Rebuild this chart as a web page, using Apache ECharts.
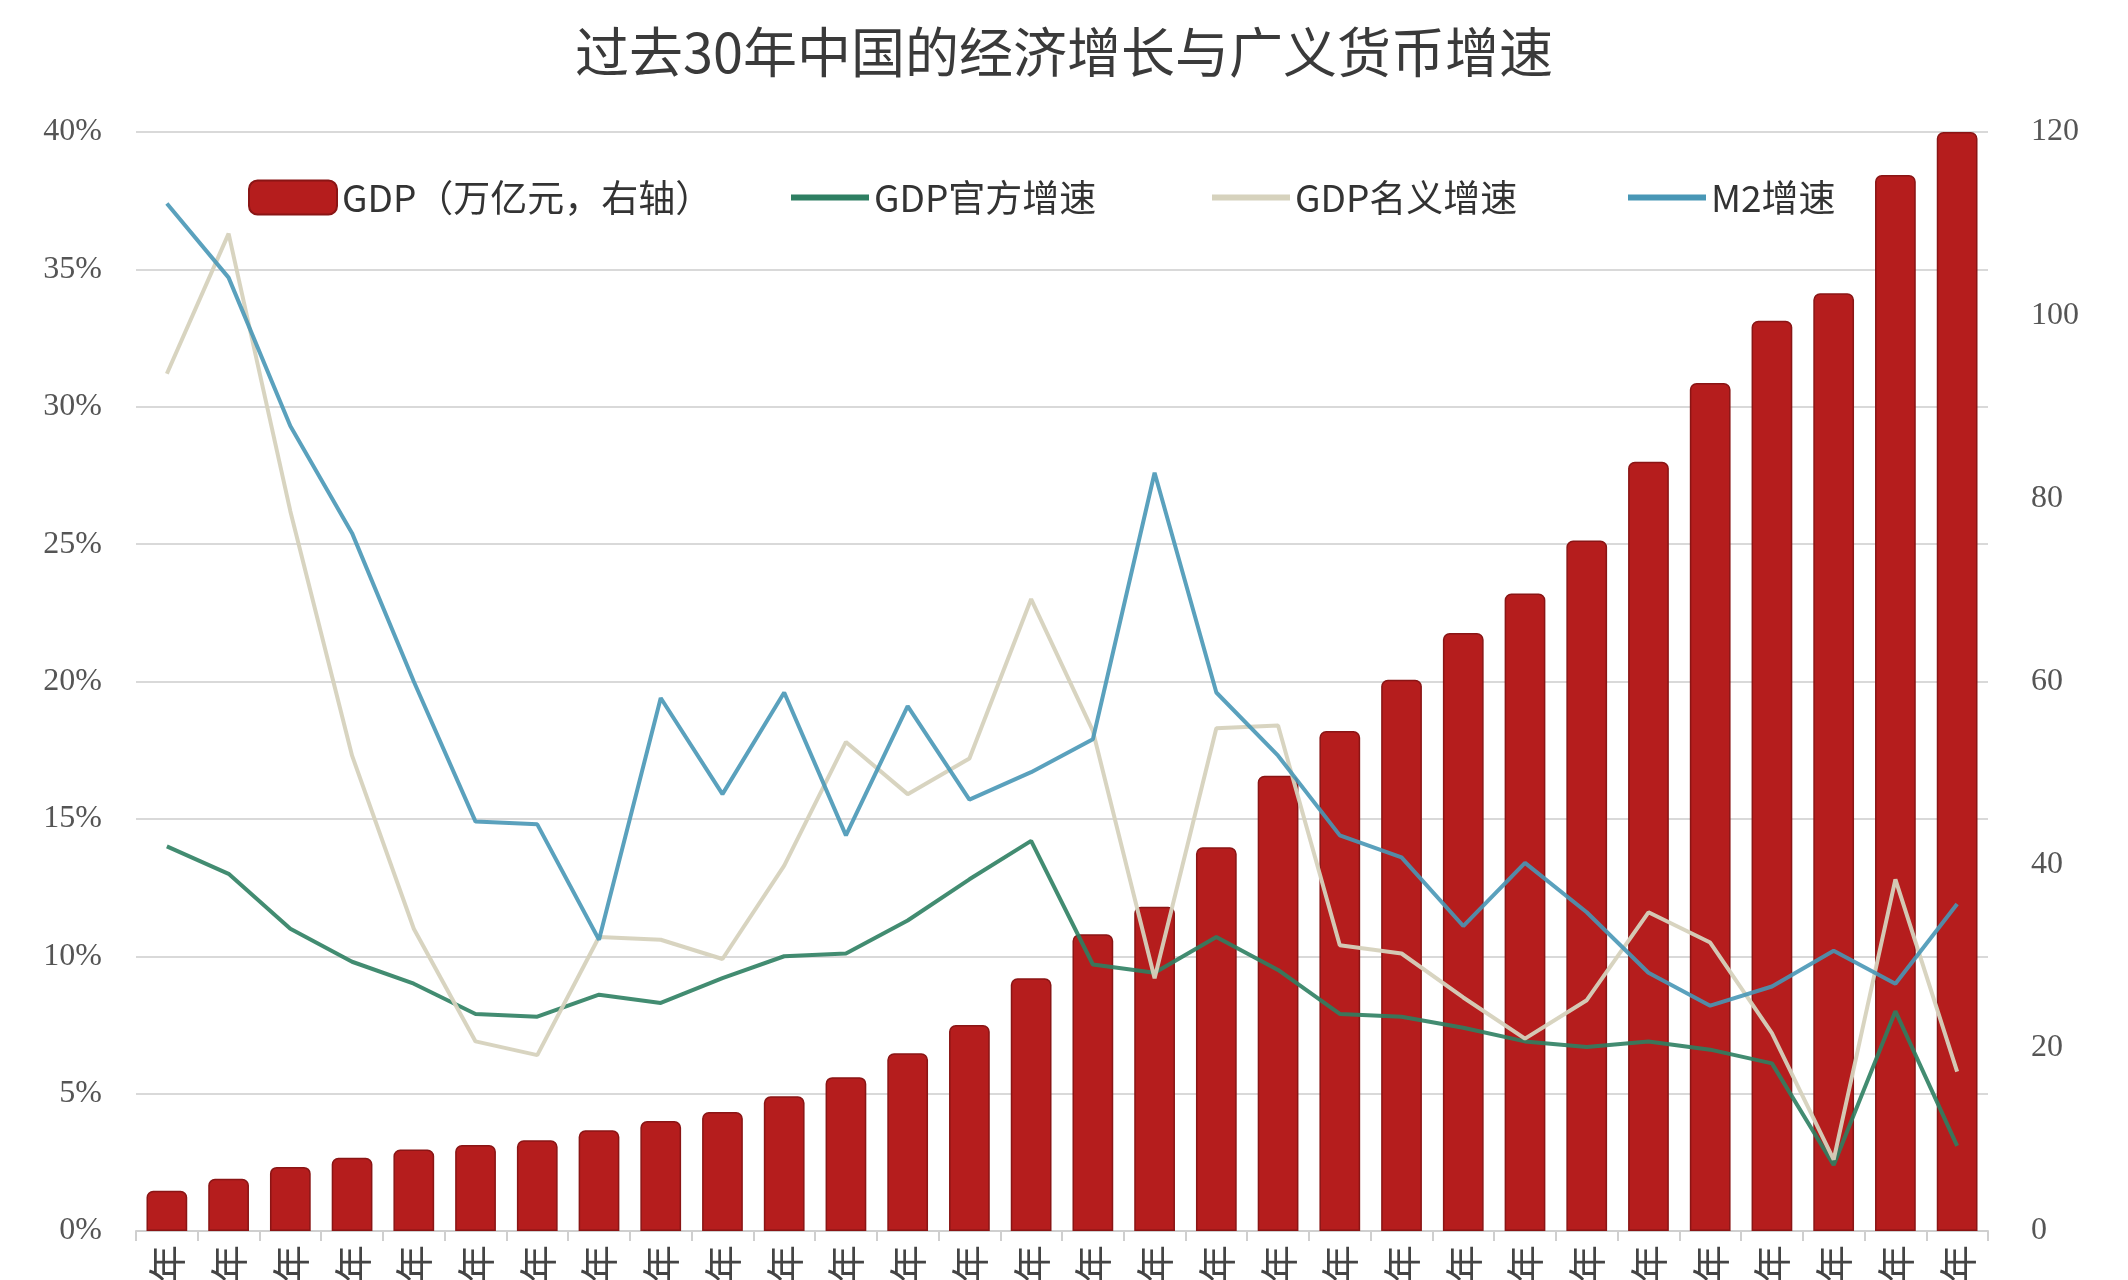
<!DOCTYPE html>
<html>
<head>
    <meta charset="utf-8" />
    <title>过去30年中国的经济增长与广义货币增速</title>
    <script src="https://cdn.jsdelivr.net/npm/echarts@6/dist/echarts.min.js"></script>
    <style>
        html, body { margin: 0; padding: 0; background: #fff; }
        #div_echart { width: 2128px; height: 1280px; }
    </style>
</head>
<body>
    <div id="div_echart"></div>
    <script>
        // 1993 - 2022
        var years = [];
        for (var y = 1993; y <= 2022; y++) { years.push(y + '年'); }

        var gdpValue = [4.4, 5.7, 7.0, 8.0, 8.9, 9.4, 9.9, 11.0, 12.0, 13.0,
            14.7, 16.8, 19.4, 22.5, 27.6, 32.4, 35.4, 41.9, 49.7, 54.6,
            60.2, 65.3, 69.6, 75.4, 84.0, 92.6, 99.4, 102.4, 115.3, 120];

        var gdpOfficial = [14.0, 13.0, 11.0, 9.8, 9.0, 7.9, 7.8, 8.6, 8.3, 9.2,
            10.0, 10.1, 11.3, 12.8, 14.2, 9.7, 9.4, 10.7, 9.5, 7.9,
            7.8, 7.4, 6.9, 6.7, 6.9, 6.6, 6.1, 2.4, 8.0, 3.1];

        var gdpNominal = [31.2, 36.3, 26.2, 17.3, 11.0, 6.9, 6.4, 10.7, 10.6, 9.9,
            13.3, 17.8, 15.9, 17.2, 23.0, 18.2, 9.2, 18.3, 18.4, 10.4,
            10.1, 8.5, 7.0, 8.4, 11.6, 10.5, 7.2, 2.6, 12.8, 5.8];

        var m2Growth = [37.4, 34.7, 29.3, 25.4, 20.0, 14.9, 14.8, 10.6, 19.4, 15.9,
            19.6, 14.4, 19.1, 15.7, 16.7, 17.9, 27.6, 19.6, 17.3, 14.4,
            13.6, 11.1, 13.4, 11.6, 9.4, 8.2, 8.9, 10.2, 9.0, 11.9];

        var leftTicks = { min: 0, max: 40, interval: 5 };
        var rightTicks = { min: 0, max: 120, interval: 20 };

        var names = ['GDP（万亿元，右轴）', 'GDP官方增速', 'GDP名义增速', 'M2增速'];

        var axisFont = { fontFamily: 'Liberation Serif', fontSize: 32, color: '#555' };
        var legendFont = { fontFamily: 'Noto Sans CJK SC', fontSize: 37, color: '#333' };

        // 每个图例单独定位
        function makeLegend(name, left, isBar) {
            return {
                data: [{ name: name, icon: isBar ? 'roundRect' : 'rect' }],
                left: left,
                top: 179,
                padding: 0,
                itemWidth: isBar ? 88 : 78,
                itemHeight: isBar ? 34 : 6,
                itemGap: 0,
                textStyle: legendFont
            };
        }

        var mychart = echarts.init(document.getElementById('div_echart'));
        var option = {
            animation: false,
            backgroundColor: '#fff',
            title: {
                text: '过去30年中国的经济增长与广义货币增速',
                left: 'center',
                top: 20,
                textStyle: { fontFamily: 'Noto Sans CJK SC', fontSize: 54, fontWeight: 'normal', color: '#3a3a3a' }
            },
            legend: [
                makeLegend(names[0], 248, true),
                makeLegend(names[1], 791, false),
                makeLegend(names[2], 1212, false),
                makeLegend(names[3], 1628, false)
            ],
            grid: { left: 136, right: 140, top: 132, bottom: 49, containLabel: false, outerBoundsMode: 'none' },
            xAxis: {
                type: 'category',
                data: years,
                axisLine: { lineStyle: { color: '#cfcfcf', width: 2 } },
                axisTick: { show: true, length: 10, lineStyle: { color: '#cfcfcf', width: 2 } },
                axisLabel: { rotate: 90, margin: 14, fontFamily: 'Noto Sans CJK SC', fontSize: 38, color: '#444', interval: 0 }
            },
            yAxis: [
                {
                    type: 'value',
                    min: leftTicks.min, max: leftTicks.max, interval: leftTicks.interval,
                    axisLine: { show: false },
                    axisTick: { show: false },
                    axisLabel: Object.assign({ formatter: '{value}%', margin: 34 }, axisFont),
                    splitLine: { lineStyle: { color: '#d9d9d9', width: 2 } }
                },
                {
                    type: 'value',
                    min: rightTicks.min, max: rightTicks.max, interval: rightTicks.interval,
                    axisLine: { show: false },
                    axisTick: { show: false },
                    axisLabel: Object.assign({ margin: 43 }, axisFont),
                    splitLine: { show: false }
                }
            ],
            series: [
                {
                    name: names[0],
                    type: 'bar',
                    yAxisIndex: 1,
                    barWidth: '66%',
                    clip: true,
                    data: gdpValue,
                    itemStyle: {
                        color: '#b51d1d',
                        borderColor: '#8a1515',
                        borderWidth: 1.5,
                        borderRadius: [6, 6, 0, 0]
                    }
                },
                {
                    name: names[1],
                    type: 'line',
                    data: gdpOfficial,
                    symbol: 'none',
                    z: 4,
                    itemStyle: { color: '#2e7f62' },
                    lineStyle: { color: '#2e7f62', width: 4, opacity: 0.9 }
                },
                {
                    name: names[2],
                    type: 'line',
                    data: gdpNominal,
                    symbol: 'none',
                    z: 4,
                    itemStyle: { color: '#d6d2bd' },
                    lineStyle: { color: '#d6d2bd', width: 4, opacity: 0.95 }
                },
                {
                    name: names[3],
                    type: 'line',
                    data: m2Growth,
                    symbol: 'none',
                    z: 5,
                    itemStyle: { color: '#4897b6' },
                    lineStyle: { color: '#4897b6', width: 4, opacity: 0.9 }
                }
            ]
        };

        if (option && typeof option === 'object') {
            mychart.setOption(option, true);
        }
    </script>
</body>
</html>
